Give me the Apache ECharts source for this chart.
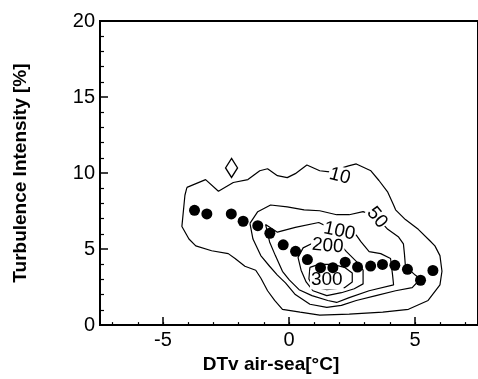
<!DOCTYPE html>
<html>
<head>
<meta charset="utf-8">
<script src="https://cdn.jsdelivr.net/npm/echarts@6.0.0/dist/echarts.min.js"></script>
<style>
  html, body { margin: 0; padding: 0; background: #fff; }
  #main { width: 478px; height: 379px; }
</style>
</head>
<body>
<div id="main"></div>
<script>
// binned mean turbulence intensity (filled dots)
var dotX = [-3.75, -3.26, -2.29, -1.82, -1.24, -0.76, -0.23, 0.26, 0.73, 1.25, 1.74, 2.23, 2.72, 3.24, 3.71, 4.20, 4.70, 5.22, 5.71];
var dotY = [7.55, 7.31, 7.31, 6.83, 6.54, 6.04, 5.28, 4.85, 4.31, 3.78, 3.78, 4.14, 3.82, 3.88, 3.99, 3.93, 3.67, 2.95, 3.59];
// single open diamond
var diamondPt = [-2.28, 10.34];

// contour levels (number of samples) and their traced outlines
var levels = ['10', '50', '100', '200', '300'];
var contour10 = [[-4.05,9.06],[-4.13,8.54],[-4.25,6.49],[-3.97,5.66],[-3.70,5.21],[-3.07,4.89],[-2.41,4.70],[-2.14,4.38],
  [-1.75,3.87],[-1.32,3.61],[-1.12,3.10],[-0.85,2.26],[-0.57,1.62],[-0.26,1.04],[0.44,0.85],[1.22,0.66],[2.39,0.72],
  [3.72,0.85],[4.74,1.04],[5.52,1.62],[5.99,2.65],[6.07,3.54],[5.99,4.57],[5.79,5.21],[5.60,5.53],[5.13,6.30],[4.62,6.94],
  [4.23,7.58],[4.15,7.90],[3.92,8.74],[3.57,9.51],[3.25,10.15],[2.67,10.60],[2.36,10.47],[1.61,10.08],[1.22,10.15],
  [0.71,10.53],[0.25,9.96],[-0.07,9.70],[-0.46,9.83],[-0.85,10.28],[-1.16,10.15],[-1.63,9.57],[-2.21,9.38],[-2.80,8.80],
  [-3.31,9.57],[-4.05,9.06]];
var contour50 = [[-1.55,6.69],[-1.24,7.46],[-0.73,7.90],[-0.07,7.78],[0.60,7.58],[1.22,7.52],[1.89,7.26],[2.39,7.26],
  [2.94,7.46],[3.49,7.07],[3.92,6.30],[4.35,5.79],[4.54,5.34],[4.58,4.70],[4.62,3.87],[5.01,3.29],[5.21,3.03],[4.89,2.46],
  [4.23,2.26],[3.45,1.94],[2.67,1.62],[2.08,1.30],[1.50,1.17],[0.83,1.37],[0.25,2.01],[-0.14,2.78],[-0.46,3.29],
  [-0.77,3.87],[-1.12,4.57],[-1.43,5.66],[-1.55,6.69]];
var contour100 = [[-0.93,6.62],[-0.46,6.11],[0.25,6.43],[1.18,6.75],[1.89,6.17],[2.67,5.92],[2.86,5.47],[3.18,4.83],
  [3.64,4.70],[4.03,4.38],[4.11,3.29],[4.15,2.65],[3.18,2.26],[2.39,1.81],[1.89,1.49],[1.54,1.62],[0.91,1.94],[0.40,2.33],
  [0.01,2.97],[-0.26,3.54],[-0.54,4.57],[-0.77,5.47],[-0.93,6.62]];
var contour200 = [[0.95,5.40],[0.56,5.08],[0.36,4.44],[0.48,3.61],[0.68,2.84],[0.95,2.26],[1.50,1.94],[2.08,2.13],
  [2.59,2.39],[2.94,2.71],[2.94,3.61],[2.67,4.19],[2.28,4.83],[2.08,5.21],[1.50,5.34],[0.95,5.40]];
var contour300 = [[0.83,3.80],[0.79,3.03],[0.95,2.52],[1.50,2.33],[2.20,2.46],[2.51,2.84],[2.51,3.42],[2.20,3.80],
  [1.73,3.99],[1.18,3.99],[0.83,3.80]];
var contours = [contour10, contour50, contour100, contour200, contour300];
// where each level number is written
var labelPos = [[2.02,9.8],[3.49,7.07],[2.00,6.17],[1.54,5.21],[1.50,2.97]];

var xMajor = [-5, 0, 5];
var xMinor = [-7, -6, -5, -4, -3, -2, -1, 0, 1, 2, 3, 4, 5, 6, 7];

var font = 'Liberation Sans, Arial, sans-serif';
var labelRotate = [-15, -50, -12, -5, 0];

var myChart = echarts.init(document.getElementById('main'));

var series = [];
contours.forEach(function(c, i) {
	series.push({
		name: 'c' + levels[i],
		type: 'line',
		xAxisIndex: 0,
		data: c,
		showSymbol: false,
		symbol: 'none',
		smooth: false,
		silent: true,
		z: 2,
		lineStyle: { color: '#000', width: 1.2, opacity: 1 }
	});
});
series.push({
	type: 'scatter',
	z: 3,
	symbolSize: 1,
	itemStyle: { color: 'rgba(0,0,0,0)', opacity: 1 },
	data: labelPos.map(function(p, i) {
		return {
			value: p,
			name: levels[i],
			label: { rotate: labelRotate[i] }
		};
	}),
	label: {
		show: true,
		position: 'inside',
		formatter: '{b}',
		color: '#000',
		opacity: 1,
		fontFamily: font,
		fontSize: 19,
		backgroundColor: '#fff',
		padding: [0, 1]
	}
});
series.push({
	type: 'scatter',
	z: 5,
	symbol: 'circle',
	symbolSize: 11,
	itemStyle: { color: '#000', opacity: 1 },
	data: dotX.map(function(x, i) { return [x, dotY[i]]; })
});
series.push({
	type: 'scatter',
	z: 5,
	symbol: 'diamond',
	symbolSize: [12, 19],
	itemStyle: { color: '#fff', borderColor: '#000', borderWidth: 1.4, opacity: 1 },
	data: [diamondPt]
});

var option = {
	animation: false,
	backgroundColor: '#fff',
	grid: {
		left: 100,
		top: 21,
		width: 384,
		height: 312,
		show: true,
		borderColor: '#000',
		borderWidth: 2,
		backgroundColor: 'transparent'
	},
	xAxis: [
		{
			type: 'value',
			min: -7.5,
			max: 7.5,
			name: 'DTv air-sea[°C]',
			nameLocation: 'middle',
			nameGap: 20,
			nameTextStyle: {
				fontFamily: font,
				fontWeight: 'bold',
				fontSize: 19,
				color: '#000',
				padding: [0, 36, 0, 0]
			},
			splitLine: { show: false },
			axisLine: { show: true, onZero: false, lineStyle: { color: '#000', width: 2 } },
			axisTick: { show: true, inside: true, length: 8, customValues: xMajor, lineStyle: { color: '#000', width: 1.5 } },
			axisLabel: { show: true, customValues: xMajor, margin: 5, fontFamily: font, fontSize: 20, color: '#000' }
		},
		{
			type: 'value',
			min: -7.5,
			max: 7.5,
			position: 'bottom',
			splitLine: { show: false },
			axisLine: { show: false },
			axisTick: { show: true, inside: true, length: 3, customValues: xMinor, lineStyle: { color: '#000', width: 1.2 } },
			axisLabel: { show: false }
		}
	],
	yAxis: {
		type: 'value',
		min: 0,
		max: 20,
		interval: 5,
		name: 'Turbulence Intensity [%]',
		nameLocation: 'middle',
		nameGap: 70,
		nameTextStyle: {
			fontFamily: font,
			fontWeight: 'bold',
			fontSize: 19,
			color: '#000'
		},
		splitLine: { show: false },
		axisLine: { show: true, onZero: false, lineStyle: { color: '#000', width: 2 } },
		axisTick: { show: true, inside: true, length: 8, lineStyle: { color: '#000', width: 1.5 } },
		minorTick: { show: true, splitNumber: 5, length: 4, lineStyle: { color: '#000', width: 1.2 } },
		axisLabel: { margin: 5, fontFamily: font, fontSize: 20, color: '#000' }
	},
	series: series
};
myChart.setOption(option);
</script>
</body>
</html>
